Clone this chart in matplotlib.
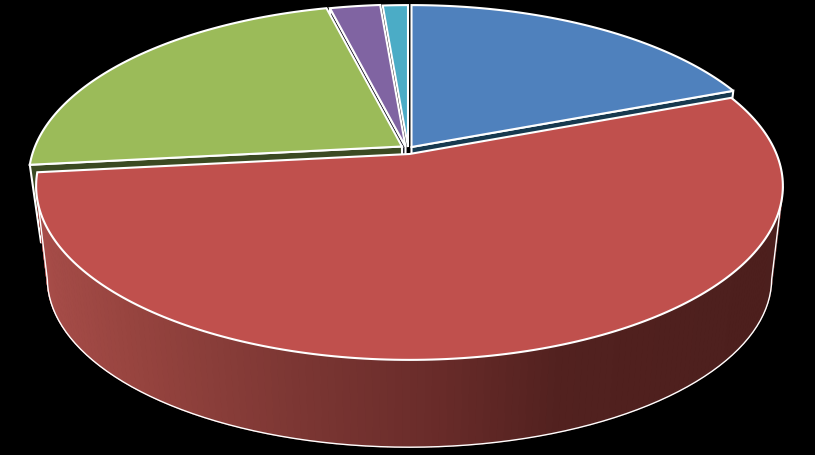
import numpy as np
import matplotlib
matplotlib.use("Agg")
import matplotlib.pyplot as plt
from matplotlib.patches import Polygon
from matplotlib.collections import PolyCollection
from matplotlib.colors import to_rgb

# Data, clockwise from 12 o'clock
slice_names = ["blue", "red", "green", "purple", "teal"]
slice_values = [19.2, 54.1, 22.8, 2.6, 1.3]

# Style
top_colors = ["#4f81bd", "#c0504d", "#9bbb59", "#8064a2", "#4bacc6"]
wall_colors = ["#17394f", "#4f211f", "#3b4a22", "#1a1624", "#1d4450"]
apex_x = [411.5, 409.5, 402.0, 405.5, 408.0]
apex_y = [148.0, 155.0, 147.5, 147.5, 148.0]
wall_side = [1, None, 0, 0, None]   # which radial edge shows its wall (0 start, 1 end)

# Perspective of the pie plane
SX, SY, K = 367.0, 168.0, 0.184
BOTTOM_SCALE = 0.97
RED_DROP, WALL_DROP = 93.5, 78.0


def project(theta, ax0, ay0, drop=None):
    u, v = np.sin(theta), np.cos(theta)
    w = 1 + K * v
    s = BOTTOM_SCALE if drop is not None else 1.0
    dy = drop if drop is not None else 0.0
    return ax0 + SX * s * u / w, ay0 + dy - SY * s * v / w


def shade(x):
    stops_x = [40, 130, 300, 430, 560, 790]
    stops_c = ["#a64c48", "#97443f", "#7b3633", "#6a2c2a", "#52211f", "#4c1f1d"]
    rgb = np.array([to_rgb(c) for c in stops_c])
    return [float(np.interp(x, stops_x, rgb[:, i])) for i in range(3)]


fig = plt.figure(figsize=(8.15, 4.56), dpi=100, facecolor="black")
ax = fig.add_axes([0, 0, 1, 1], facecolor="black")
ax.set_xlim(0, 815)
ax.set_ylim(456, 0)
ax.axis("off")

fractions = np.array(slice_values) / sum(slice_values)
edges = np.concatenate([[0], np.cumsum(fractions)]) * 2 * np.pi
LW = 1.5
draw_order = [4, 3, 2, 0, 1]
z = 1
for i in draw_order:
    a, b = edges[i], edges[i + 1]
    th = np.linspace(a, b, max(int((b - a) * 60), 12))
    ax0, ay0 = apex_x[i], apex_y[i]
    tx, ty = project(th, ax0, ay0)

    if i == 1:
        bx, by = project(th, ax0, ay0, RED_DROP)
        quads = [[(bx[j], by[j]), (bx[j + 1], by[j + 1]), (tx[j + 1], ty[j + 1]), (tx[j], ty[j])]
                 for j in range(len(th) - 1)]
        cols = [shade((tx[j] + tx[j + 1]) / 2) for j in range(len(th) - 1)]
        ax.add_collection(PolyCollection(quads, facecolors=cols, edgecolors=cols, linewidths=0.9, zorder=z))
        z += 1
        # thin white outline: silhouette edges and lower rim
        jr, jl = int(np.argmax(tx)), int(np.argmin(tx))
        ox = np.concatenate([[tx[jr]], bx[jr:jl + 1], [tx[jl]]])
        oy = np.concatenate([[ty[jr]], by[jr:jl + 1], [ty[jl]]])
        ax.plot(ox, oy, color="white", lw=1.0, zorder=z, solid_joinstyle="round")
        z += 1
    elif wall_side[i] is not None:
        j = 0 if wall_side[i] == 0 else -1
        fx, fy = project(th, ax0, ay0, WALL_DROP)
        wall = [(ax0, ay0), (tx[j], ty[j]), (fx[j], fy[j]), (ax0, ay0 + WALL_DROP)]
        ax.add_patch(Polygon(wall, closed=True, facecolor=wall_colors[i], edgecolor="white",
                             lw=LW, joinstyle="miter", zorder=z))
        z += 1
    # top surface
    top = [(ax0, ay0)] + list(zip(tx, ty))
    ax.add_patch(Polygon(top, closed=True, facecolor=top_colors[i], edgecolor="white",
                         lw=LW, joinstyle="miter", zorder=z))
    z += 1

fig.savefig("out.png", dpi=100, facecolor="black")
